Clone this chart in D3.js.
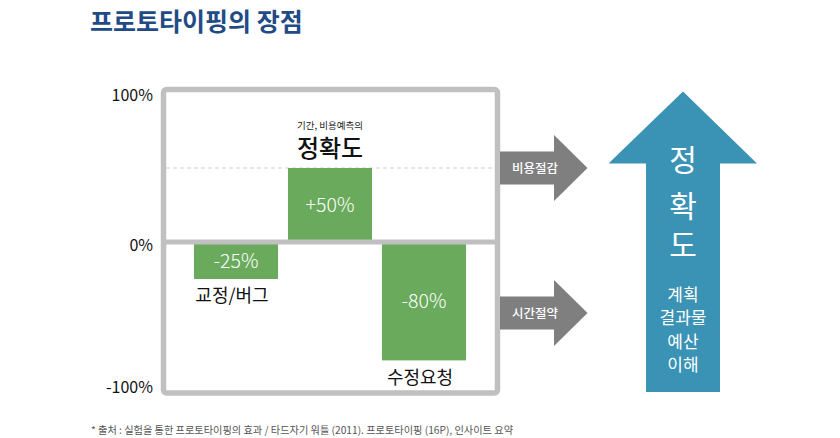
<!DOCTYPE html>
<html><head><meta charset="utf-8">
<script src="https://cdn.jsdelivr.net/npm/d3@7"></script>
<style>body{margin:0;background:#fff;} svg{display:block;font-family:"Noto Sans CJK KR","Noto Sans",sans-serif;}</style>
</head><body>
<svg id="c" width="840" height="438"></svg>
<script>
const title = "프로토타이핑의 장점";
const categories = ["교정/버그", "정확도", "수정요청"];
const values = [-25, 50, -80];
const valueLabels = ["-25%", "+50%", "-80%"];
const tickValues = [100, 0, -100];
const tickLabels = ["100%", "0%", "-100%"];
const subLabel = "기간, 비용예측의";
const grayArrows = ["비용절감", "시간절약"];
const grayArrowLevels = [50, -48];
const bigArrowMain = ["정", "확", "도"];
const bigArrowSub = ["계획", "결과물", "예산", "이해"];
const footnote = "* 출처 : 실험을 통한 프로토타이핑의 효과 / 타드자기 워틀 (2011). 프로토타이핑 (16P), 인사이트 요약";

const svg = d3.select("#c");
const y = d3.scaleLinear().domain([-100, 100]).range([390, 94]);
const x = d3.scaleBand().domain(categories).range([189, 471]).paddingInner(0.106).paddingOuter(0.053);

// title
svg.append("text").attr("x", 90).attr("y", 31).attr("fill", "#1f4b86")
  .attr("font-size", 25).attr("font-weight", 700).text(title);

// dashed line at 50%
svg.append("line").attr("x1", 166).attr("x2", 495).attr("y1", y(50)).attr("y2", y(50))
  .attr("stroke", "#cfcfcf").attr("stroke-width", 1).attr("stroke-dasharray", "4,3");

// bars
const green = "#6aaa5c";
svg.selectAll("rect.bar").data(values).join("rect").attr("class", "bar")
  .attr("x", (d, i) => x(categories[i]))
  .attr("width", x.bandwidth())
  .attr("y", d => Math.min(y(d), y(0)))
  .attr("height", d => Math.abs(y(d) - y(0)))
  .attr("fill", green);

svg.selectAll("text.vl").data(values).join("text").attr("class", "vl")
  .attr("x", (d, i) => x(categories[i]) + x.bandwidth() / 2)
  .attr("y", d => (y(d) + y(0)) / 2)
  .attr("dy", "0.36em").attr("text-anchor", "middle")
  .attr("fill", "#fff").attr("font-size", 19.5).attr("font-weight", 300)
  .text((d, i) => valueLabels[i]);

// category labels
svg.selectAll("text.cat").data(values).join("text").attr("class", "cat")
  .attr("x", (d, i) => x(categories[i]) + x.bandwidth() / 2 - (i === 1 ? 0 : 4))
  .attr("y", (d, i) => d < 0 ? y(d) + 17 : y(d) - 20)
  .attr("dy", "0.36em").attr("text-anchor", "middle")
  .attr("fill", "#111")
  .attr("font-size", (d, i) => d > 0 ? 24 : 18)
  .attr("font-weight", (d, i) => d > 0 ? 500 : 400)
  .text((d, i) => categories[i]);
svg.append("text").attr("x", x(categories[1]) + x.bandwidth() / 2).attr("y", y(50) - 42)
  .attr("dy", "0.36em").attr("text-anchor", "middle").attr("font-size", 9.5).attr("fill", "#222")
  .text(subLabel);

// box frame
svg.append("rect").attr("x", 163.5).attr("y", 89.5).attr("width", 334).attr("height", 303.5)
  .attr("rx", 3).attr("fill", "none").attr("stroke", "#c0c0c0").attr("stroke-width", 5.5);
svg.append("line").attr("x1", 163.5).attr("x2", 497.5).attr("y1", y(0)).attr("y2", y(0))
  .attr("stroke", "#c0c0c0").attr("stroke-width", 5);

// y tick labels
svg.selectAll("text.tick").data(tickValues).join("text").attr("class", "tick")
  .attr("x", 153).attr("y", d => y(d) + (d === 100 ? 1 : d === 0 ? 3 : -3))
  .attr("dy", "0.36em").attr("text-anchor", "end")
  .attr("font-size", 16).attr("fill", "#111")
  .text((d, i) => tickLabels[i]);

// gray arrows
const ga = svg.selectAll("g.ga").data(grayArrowLevels).join("g").attr("class", "ga")
  .attr("transform", d => `translate(0,${y(d)})`);
ga.append("path").attr("fill", "#7f7f7f")
  .attr("d", "M500,-16.5 L554,-16.5 L554,-33 L587.5,0 L554,33 L554,16.5 L500,16.5 Z");
ga.append("text").attr("x", 535).attr("y", 0).attr("dy", "0.36em").attr("text-anchor", "middle")
  .attr("fill", "#fff").attr("font-size", 12.5).attr("font-weight", 500)
  .text((d, i) => grayArrows[i]);

// big blue arrow
svg.append("path").attr("fill", "#3a92b4")
  .attr("d", "M646,392 L646,163.5 L608.5,163.5 L683,91.5 L757,163.5 L720,163.5 L720,392 Z");
const mainY = [160, 206, 245];
svg.selectAll("text.bm").data(bigArrowMain).join("text").attr("class", "bm")
  .attr("x", 683).attr("y", (d, i) => mainY[i]).attr("dy", "0.36em").attr("text-anchor", "middle")
  .attr("fill", "#fff").attr("font-size", 30).text(d => d);
const subY = [295, 318, 342, 365];
svg.selectAll("text.bs").data(bigArrowSub).join("text").attr("class", "bs")
  .attr("x", 683).attr("y", (d, i) => subY[i]).attr("dy", "0.36em").attr("text-anchor", "middle")
  .attr("fill", "#fff").attr("font-size", 17).text(d => d);

// footnote
svg.append("text").attr("x", 91).attr("y", 430).attr("dy", "0.36em")
  .attr("fill", "#555").attr("font-size", 10.2).text(footnote);
</script>
</body></html>
